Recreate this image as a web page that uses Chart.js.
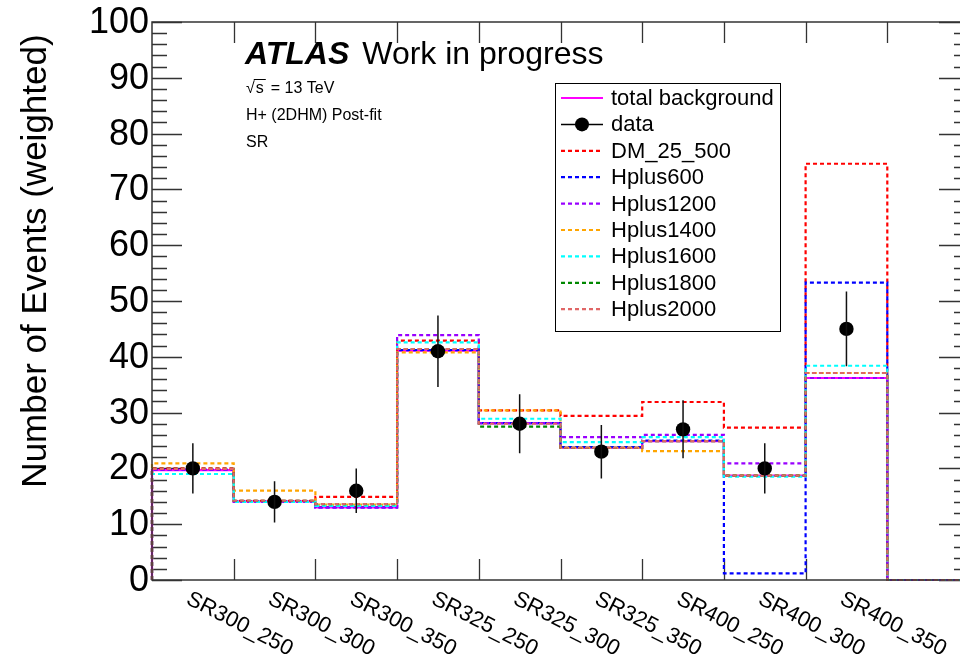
<!DOCTYPE html>
<html>
<head>
<meta charset="utf-8">
<script src="https://cdn.jsdelivr.net/npm/chart.js@4.4.1/dist/chart.umd.min.js"></script>
<style>
  html, body { margin: 0; padding: 0; background: #fff; overflow: hidden; }
  #wrap { width: 980px; height: 660px; }
</style>
</head>
<body>
<div id="wrap"><canvas id="c" width="980" height="660"></canvas></div>
<script>
// Signal-region bins
const categories = ["SR300_250", "SR300_300", "SR300_350", "SR325_250", "SR325_300",
                    "SR325_350", "SR400_250", "SR400_300", "SR400_350"];

// Yields per bin (the tenth bin is empty)
const totalBackground = [19.7, 14.1, 13.0, 41.1, 28.1, 23.7, 24.9, 18.7, 36.2, 0];
const dataCounts      = [20, 14, 16, 41, 28, 23, 27, 20, 45];
const dataErrors      = [4.5, 3.7, 4.0, 6.4, 5.3, 4.8, 5.2, 4.5, 6.7];
const dm_25_500       = [20.0, 14.2, 14.9, 42.9, 30.4, 29.4, 31.9, 27.3, 74.6, 0];
const hplus600        = [19.8, 14.1, 13.0, 41.2, 28.1, 23.8, 25.0, 1.2, 53.3, 0];
const hplus1200       = [19.8, 14.0, 13.0, 43.9, 28.1, 25.6, 26.0, 20.9, 36.2, 0];
const hplus1400       = [20.9, 16.0, 13.5, 40.8, 30.4, 23.7, 23.1, 18.7, 37.1, 0];
const hplus1600       = [19.0, 14.0, 13.3, 42.6, 28.9, 24.7, 25.6, 18.5, 38.4, 0];
const hplus1800       = [19.9, 14.2, 13.6, 41.4, 27.5, 23.7, 24.9, 18.7, 37.1, 0];
const hplus2000       = [19.9, 14.2, 13.6, 41.4, 28.0, 23.7, 24.9, 18.7, 37.1, 0];

const yTicks = [0, 10, 20, 30, 40, 50, 60, 70, 80, 90, 100];

const FONT = '"Liberation Sans", Arial, Helvetica, sans-serif';

// Step-histogram outline: start at zero on the left edge, one point per bin edge
function histPoints(vals) {
  const pts = [{ x: 0, y: 0 }];
  vals.forEach((v, i) => pts.push({ x: i, y: v }));
  pts.push({ x: vals.length, y: vals[vals.length - 1] });
  return pts;
}

const signals = [
  { label: "DM_25_500", values: dm_25_500, color: "#ff0000" },
  { label: "Hplus600",  values: hplus600,  color: "#0000ff" },
  { label: "Hplus1200", values: hplus1200, color: "#9900ff" },
  { label: "Hplus1400", values: hplus1400, color: "#ffa500" },
  { label: "Hplus1600", values: hplus1600, color: "#00ffff" },
  { label: "Hplus1800", values: hplus1800, color: "#008800" },
  { label: "Hplus2000", values: hplus2000, color: "#e06666" }
];

const datasets = [];
datasets.push({
  label: "total background",
  data: histPoints(totalBackground),
  borderColor: "#ff00ff",
  borderWidth: 2.2,
  stepped: "before",
  pointRadius: 0,
  fill: false,
  clip: false,
  order: 20
});
signals.forEach((s, i) => {
  datasets.push({
    label: s.label,
    data: histPoints(s.values),
    borderColor: s.color,
    borderWidth: 2.2,
    borderDash: [4, 3],
    stepped: "before",
    pointRadius: 0,
    fill: false,
    clip: false,
    order: 10 - i
  });
});
datasets.push({
  label: "data",
  type: "scatter",
  data: dataCounts.map((v, i) => ({ x: i + 0.5, y: v })),
  pointRadius: 7.2,
  pointHoverRadius: 7.2,
  pointBackgroundColor: "#000",
  pointBorderColor: "#000",
  pointBorderWidth: 0,
  showLine: false,
  clip: false,
  order: 0
});

// Frame, ticks, labels, error bars, legend and captions
const decorations = {
  id: "decorations",
  beforeDatasetsDraw(chart) {
    const { ctx, chartArea: a, scales: { x, y } } = chart;
    ctx.save();
    ctx.strokeStyle = "#333";
    ctx.lineWidth = 1.3;
    ctx.beginPath();
    // x ticks at bin edges, bottom and top
    for (let i = 1; i < 10; i++) {
      const px = Math.round(x.getPixelForValue(i)) + 0.5;
      ctx.moveTo(px, a.bottom); ctx.lineTo(px, a.bottom - 21);
      ctx.moveTo(px, a.top); ctx.lineTo(px, a.top + 21);
    }
    // y ticks: majors every 10, minors every 2
    for (let v = 0; v <= 100; v += 2) {
      const py = Math.round(y.getPixelForValue(v)) + 0.5;
      const len = (v % 10 === 0) ? 30 : 15;
      ctx.moveTo(a.left, py); ctx.lineTo(a.left + len, py);
      ctx.moveTo(a.right, py); ctx.lineTo(a.right - len, py);
    }
    ctx.stroke();
    ctx.restore();
  },
  afterDatasetsDraw(chart) {
    const { ctx, chartArea: a, scales: { x, y } } = chart;
    ctx.save();

    // error bars on data
    ctx.strokeStyle = "#111";
    ctx.lineWidth = 1.5;
    ctx.beginPath();
    dataCounts.forEach((v, i) => {
      const px = x.getPixelForValue(i + 0.5);
      ctx.moveTo(px, y.getPixelForValue(v + dataErrors[i]));
      ctx.lineTo(px, y.getPixelForValue(v - dataErrors[i]));
    });
    ctx.stroke();

    // frame
    ctx.strokeStyle = "#333";
    ctx.lineWidth = 1.5;
    ctx.strokeRect(a.left, a.top, a.right - a.left, a.bottom - a.top);

    // y tick labels
    ctx.fillStyle = "#000";
    ctx.font = "36px " + FONT;
    ctx.textAlign = "right";
    ctx.textBaseline = "middle";
    yTicks.forEach(v => ctx.fillText(String(v), a.left - 3, y.getPixelForValue(v) + 1));

    // y axis title
    ctx.save();
    ctx.translate(36, 261);
    ctx.rotate(-Math.PI / 2);
    ctx.textAlign = "center";
    ctx.textBaseline = "middle";
    ctx.font = "35px " + FONT;
    ctx.fillText("Number of Events (weighted)", 0, 0);
    ctx.restore();

    // x category labels, slanted
    ctx.font = "22px " + FONT;
    ctx.textAlign = "left";
    ctx.textBaseline = "top";
    categories.forEach((c, i) => {
      const px = x.getPixelForValue(i + 0.5);
      ctx.save();
      ctx.translate(px, a.bottom + 8);
      ctx.rotate(27 * Math.PI / 180);
      ctx.fillText(c, 0, 0);
      ctx.restore();
    });

    // ATLAS label
    ctx.textBaseline = "alphabetic";
    ctx.font = "italic bold 32px " + FONT;
    ctx.fillText("ATLAS", 245, 64);
    const wA = ctx.measureText("ATLAS").width;
    ctx.font = "32px " + FONT;
    ctx.fillText("Work in progress", 245 + wA + 13, 64);

    // captions
    ctx.font = "16px " + FONT;
    ctx.fillText("\u221A", 246, 93);
    const wR = ctx.measureText("\u221A").width;
    ctx.fillText("s", 246 + wR + 1, 93);
    const wS = ctx.measureText("s").width;
    ctx.beginPath();
    ctx.lineWidth = 1;
    ctx.strokeStyle = "#000";
    ctx.moveTo(246 + wR - 1, 79.5);
    ctx.lineTo(246 + wR + wS + 3, 79.5);
    ctx.stroke();
    ctx.fillText("= 13 TeV", 246 + wR + wS + 8, 93);
    ctx.fillText("H+ (2DHM) Post-fit", 246, 120);
    ctx.fillText("SR", 246, 147);

    // legend box
    const lx = 555.5, ly = 83.5, lw = 225, lh = 248;
    ctx.fillStyle = "#fff";
    ctx.fillRect(lx, ly, lw, lh);
    ctx.strokeStyle = "#000";
    ctx.lineWidth = 1;
    ctx.strokeRect(lx, ly, lw, lh);

    const rows = [{ label: "total background", kind: "solid", color: "#ff00ff" },
                  { label: "data", kind: "data", color: "#000" }]
      .concat(signals.map(s => ({ label: s.label, kind: "dash", color: s.color })));
    ctx.font = "22px " + FONT;
    ctx.textBaseline = "middle";
    ctx.textAlign = "left";
    rows.forEach((r, i) => {
      const ry = 98 + i * 26.4;
      ctx.beginPath();
      ctx.strokeStyle = r.color;
      ctx.lineWidth = r.kind === "data" ? 1.5 : 2.2;
      ctx.setLineDash(r.kind === "dash" ? [4, 3] : []);
      ctx.moveTo(561, ry); ctx.lineTo(603, ry);
      ctx.stroke();
      ctx.setLineDash([]);
      if (r.kind === "data") {
        ctx.beginPath();
        ctx.fillStyle = "#000";
        ctx.arc(582, ry, 7, 0, Math.PI * 2);
        ctx.fill();
      }
      ctx.fillStyle = "#000";
      ctx.fillText(r.label, 611, ry + 1);
    });

    ctx.restore();
  }
};

new Chart(document.getElementById("c"), {
  type: "line",
  data: { datasets },
  options: {
    responsive: false,
    animation: false,
    events: [],
    layout: { padding: { left: 152, right: 11, top: 22, bottom: 80 } },
    plugins: { legend: { display: false }, tooltip: { enabled: false } },
    scales: {
      x: { type: "linear", min: 0, max: 10, display: false },
      y: { type: "linear", min: 0, max: 100, display: false }
    }
  },
  plugins: [decorations]
});
</script>
</body>
</html>
